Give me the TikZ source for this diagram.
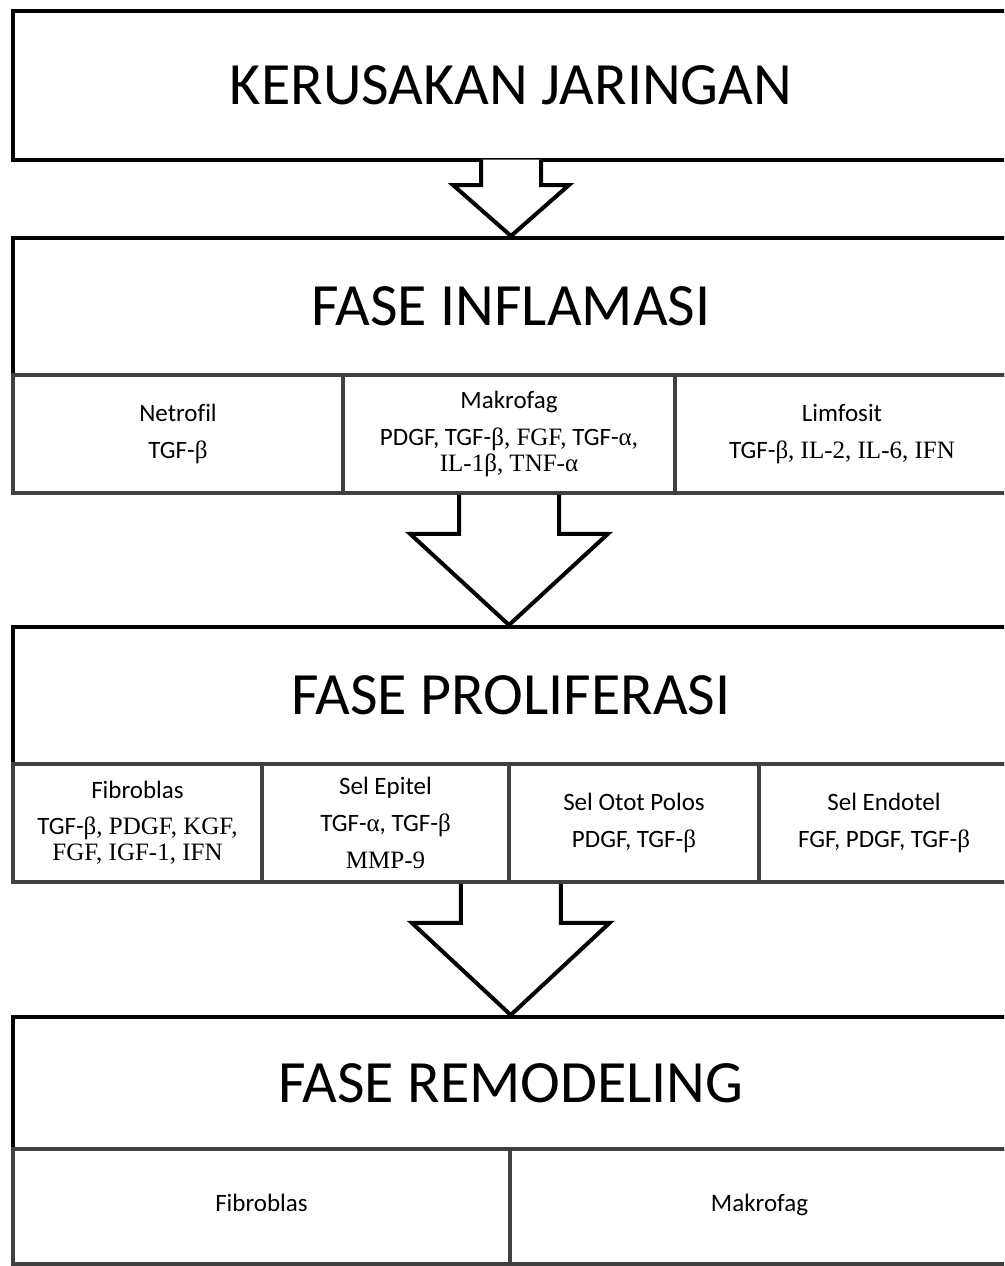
\documentclass[tikz,border=0pt]{standalone}
\usepackage{fontspec}
\setmainfont{Carlito}[Ligatures={NoCommon}]
\newfontfamily\tnr{Liberation Serif}
\usetikzlibrary{calc}
\newcommand\ser[1]{{\tnr #1}}
\begin{document}
\begin{tikzpicture}[x=1pt,y=-1pt,
 mainbox/.style={draw=black,line width=4pt,inner sep=0pt,font=\fontsize{60}{62}\selectfont},
 subbox/.style={draw=black!75,line width=3.5pt,inner sep=0pt,align=center,font=\fontsize{25}{26}\selectfont},
 barrow/.style={draw=black,line width=4pt}]
\useasboundingbox (0,0) rectangle (1004,1266);
\clip (0,0) rectangle (1004,1266);
% box 1
\node[mainbox,minimum width=996pt,minimum height=149pt] (b1) at (511,85.5) {KERUSAKAN JARINGAN};
% box 2
\node[mainbox,minimum width=996pt,minimum height=137pt] (b2) at (511,306.5) {FASE INFLAMASI};
\node[subbox,minimum width=330pt,minimum height=118pt] (net) at (178,434) {Netrofil\\[11pt]TGF-\ser{β}};
\node[subbox,minimum width=332pt,minimum height=118pt] (mak) at (509,434) {Makrofag\\[11pt]PDGF, TGF-\ser{β, FGF,} TGF-\ser{α,}\\\ser{IL-1β, TNF-α}};
\node[subbox,minimum width=334pt,minimum height=118pt] (lim) at (842,434) {Limfosit\\[11pt]TGF-\ser{β, IL-2, IL-6, IFN}};
% box 3
\node[mainbox,minimum width=996pt,minimum height=137pt] (b3) at (511,695.5) {FASE PROLIFERASI};
\node[subbox,minimum width=249pt,minimum height=118pt] (fib) at (137.5,823) {Fibroblas\\[10pt]TGF-\ser{β, PDGF, KGF,}\\\ser{FGF, IGF-1, IFN}};
\node[subbox,minimum width=247pt,minimum height=118pt] (epi) at (385.5,823) {Sel Epitel\\[11pt]TGF-\ser{α}, TGF-\ser{β}\\[11pt]\ser{MMP-9}};
\node[subbox,minimum width=250pt,minimum height=118pt] (oto) at (634,823) {Sel Otot Polos\\[11pt]PDGF, TGF-\ser{β}};
\node[subbox,minimum width=250pt,minimum height=118pt] (end) at (884,823) {Sel Endotel\\[11pt]FGF, PDGF, TGF-\ser{β}};
% box 4
\node[mainbox,minimum width=996pt,minimum height=132pt] (b4) at (511,1083) {FASE REMODELING};
\node[subbox,minimum width=497pt,minimum height=115pt] (fib2) at (261.5,1206.5) {\strut Fibroblas};
\node[subbox,minimum width=499pt,minimum height=115pt] (mak2) at (759.5,1206.5) {\strut Makrofag};
% arrows
\draw[barrow,fill=white] ($(b1.south)+(-30,-2.5)$) -- ++(0,25.5) -- ++(-28,0) -- (b1.south |- b2.north) -- ($(b1.south)+(58,23)$) -- ++(-28,0) -- ++(0,-25.5);
\draw[barrow] ($(mak.south)+(-50,0)$) -- ++(0,39) -- ++(-49,0) -- (mak.south |- b3.north) -- ($(mak.south)+(99,39)$) -- ++(-49,0) -- ++(0,-39);
\draw[barrow] ($(epi.south east)+(-50,0)$) -- ++(0,39) -- ++(-49,0) -- (epi.south east |- b4.north) -- ($(epi.south east)+(99,39)$) -- ++(-49,0) -- ++(0,-39);
\end{tikzpicture}
\end{document}
